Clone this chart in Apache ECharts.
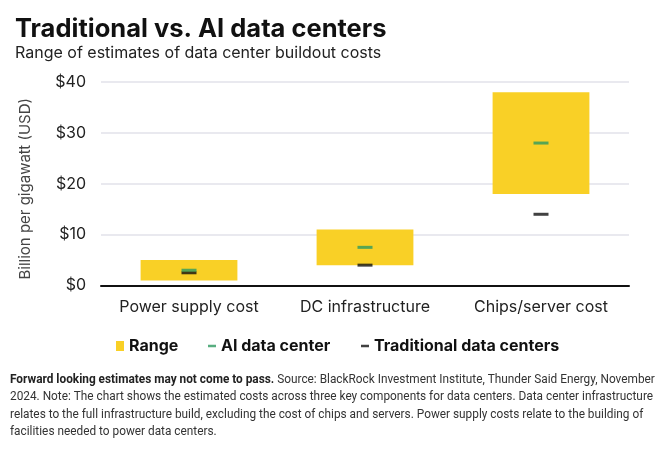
<!DOCTYPE html>
<html><head><meta charset="utf-8">
<script src="https://cdn.jsdelivr.net/npm/echarts@6/dist/echarts.min.js"></script>
<style>html,body{margin:0;padding:0;background:#fff}#c{width:664px;height:450px}</style>
</head><body><div id="c"></div>
<script>
const categories = ['Power supply cost', 'DC infrastructure', 'Chips/server cost'];
const rangeLow = [1, 4, 18];
const rangeHigh = [5, 11, 38];
const aiDC = [3, 7.5, 28];
const tradDC = [2.5, 4, 14];
const yTicks = [0, 10, 20, 30, 40];

const FONT = 'Inter, "Noto Sans", sans-serif';
const chart = echarts.init(document.getElementById('c'), null, {renderer: 'canvas'});
const footY = 373;
const SX = 0.91;
const footStyle = {font: '13px Roboto', fill: '#333'};
chart.setOption({
  animation: false,
  title: {
    text: 'Traditional vs. AI data centers',
    subtext: 'Range of estimates of data center buildout costs',
    left: 10, top: 11, itemGap: 3,
    textStyle: {fontFamily: FONT, fontSize: 25.5, fontWeight: 'bold', color: '#111'},
    subtextStyle: {fontFamily: FONT, fontSize: 16, color: '#222'}
  },
  grid: {left: 101, right: 35, top: 82, bottom: 164.5},
  legend: [
    {data: [{name: 'Range', icon: 'rect'}], left: 111, top: 333, itemWidth: 8, itemHeight: 10,
     textStyle: {fontFamily: FONT, fontSize: 16, fontWeight: 'bold', color: '#111'}},
    {data: [{name: 'AI data center', icon: 'rect'}], left: 203, top: 333, itemWidth: 8, itemHeight: 2.5,
     textStyle: {fontFamily: FONT, fontSize: 16, fontWeight: 'bold', color: '#111'}},
    {data: [{name: 'Traditional data centers', icon: 'rect'}], left: 356, top: 333, itemWidth: 8, itemHeight: 2.5,
     textStyle: {fontFamily: FONT, fontSize: 16, fontWeight: 'bold', color: '#111'}}
  ],
  xAxis: {
    type: 'category', data: categories,
    axisLine: {lineStyle: {color: '#111', width: 2}},
    axisTick: {show: false},
    axisLabel: {fontFamily: FONT, fontSize: 16, color: '#222', margin: 14, interval: 0}
  },
  yAxis: {
    type: 'value', min: yTicks[0], max: yTicks[yTicks.length - 1], interval: 10,
    name: 'Billion per gigawatt (USD)', nameLocation: 'middle', nameGap: 68,
    nameTextStyle: {fontFamily: FONT, fontSize: 15, color: '#444', padding: [0, 10, 0, 0]},
    axisLine: {show: false}, axisTick: {show: false},
    axisLabel: {fontFamily: FONT, fontSize: 16, color: '#222', margin: 15, formatter: v => '$' + v},
    splitLine: {lineStyle: {color: '#e2e2ea', width: 1.5}}
  },
  series: [
    {name: 'base', type: 'bar', stack: 'r', data: rangeLow, itemStyle: {color: 'transparent'},
     barWidth: '55%', silent: true},
    {name: 'Range', type: 'bar', stack: 'r', data: rangeHigh.map((h, i) => h - rangeLow[i]),
     itemStyle: {color: '#F9D026'}, barWidth: '55%'},
    {name: 'AI data center', type: 'scatter', data: aiDC, symbol: 'rect', symbolSize: [15, 3],
     itemStyle: {color: '#2E9A60'}, z: 5},
    {name: 'Traditional data centers', type: 'scatter', data: tradDC, symbol: 'rect', symbolSize: [15, 3],
     itemStyle: {color: '#111'}, z: 4}
  ],
  graphic: [
    {type: 'text', left: 10, top: footY, scaleX: SX, originX: 0,
     style: {text: '{b|Forward looking estimates may not come to pass.} Source: BlackRock Investment Institute, Thunder Said Energy, November',
       font: '13px Roboto', fill: '#333', rich: {b: {fontFamily: 'Roboto', fontSize: 13, fontWeight: 'bold', fill: '#222'}}}},
    {type: 'text', left: 10, top: footY + 17.5, scaleX: SX, originX: 0,
     style: Object.assign({text: '2024. Note: The chart shows the estimated costs across three key components for data centers. Data center infrastructure'}, footStyle)},
    {type: 'text', left: 10, top: footY + 35, scaleX: SX, originX: 0,
     style: Object.assign({text: 'relates to the full infrastructure build, excluding the cost of chips and servers. Power supply costs relate to the building of'}, footStyle)},
    {type: 'text', left: 10, top: footY + 52.5, scaleX: SX, originX: 0,
     style: Object.assign({text: 'facilities needed to power data centers.'}, footStyle)}
  ]
});
</script></body></html>
